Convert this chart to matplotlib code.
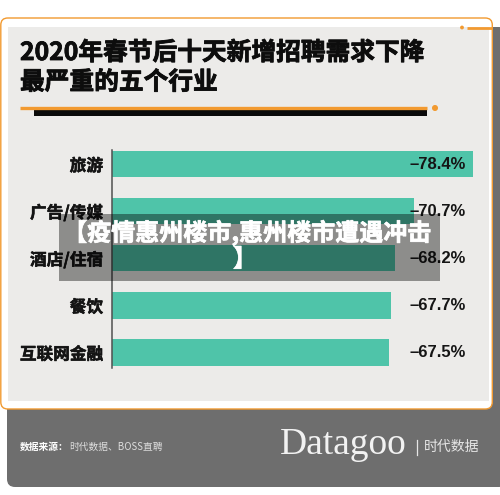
import matplotlib
matplotlib.use("Agg")
import matplotlib.pyplot as plt
import matplotlib.patheffects as pe
from matplotlib.patches import FancyBboxPatch, Rectangle, Circle
from matplotlib.transforms import blended_transform_factory

plt.rcParams['font.family'] = ['Noto Sans CJK SC', 'DejaVu Sans']

# ---- data ----
categories = ["旅游", "广告/传媒", "酒店/住宿", "餐饮", "互联网金融"]
values = [78.4, 70.7, 68.2, 67.7, 67.5]          # decline in %
value_labels = ["–78.4%", "–70.7%", "–68.2%", "–67.7%", "–67.5%"]
title_lines = ["2020年春节后十天新增招聘需求下降", "最严重的五个行业"]
watermark_lines = ["【疫情惠州楼市,惠州楼市遭遇冲击", "】"]
source_label = "数据来源："
source_text = "时代数据、BOSS直聘"
brand = "Datagoo"
brand_cn = "时代数据"

W, H = 500, 495
ORANGE = "#f29a30"
TEAL = "#4fc4a9"
PANEL = "#6e6e6e"
CARD = "#ecebe9"

def heavy(color, w=0.7):
    return [pe.withStroke(linewidth=w, foreground=color)]

fig = plt.figure(figsize=(W / 100, H / 100), dpi=100)
fig.patch.set_facecolor("white")

bg = fig.add_axes([0, 0, 1, 1], zorder=0)
bg.set_xlim(0, W)
bg.set_ylim(H, 0)
bg.axis("off")

bg.add_patch(FancyBboxPatch((7, 27), 500, 460, boxstyle="round,pad=0,rounding_size=8",
                            facecolor=PANEL, edgecolor="none"))
bg.add_patch(FancyBboxPatch((0.8, 18), 491.5, 391, boxstyle="round,pad=0,rounding_size=7",
                            facecolor="white", edgecolor=ORANGE, linewidth=1.0))
bg.add_patch(Rectangle((8, 27), 481, 374, facecolor=CARD, edgecolor="none"))
bg.plot([467, 492], [27.5, 27.5], color=ORANGE, lw=2, solid_capstyle="butt")
bg.add_patch(Circle((462, 27.5), 1.2, color=ORANGE))

for i, line in enumerate(title_lines):
    bg.text(20, 53 + i * 29.5, line, fontsize=17.8, fontweight="bold", color="#0d0d0d",
            ha="left", va="center", path_effects=heavy("#0d0d0d", 0.6))
bg.plot([20, 427], [108, 108], color=ORANGE, lw=2.4, solid_capstyle="butt")
bg.add_patch(Circle((435, 108), 2.3, color=ORANGE))
bg.add_patch(Rectangle((34, 110), 393, 6, facecolor="#0a0a0a", edgecolor="none"))

bg.text(20, 447, source_label, fontsize=7, fontweight="bold", color="white",
        ha="left", va="center")
bg.text(69, 447, source_text, fontsize=7, color="#dddddd", ha="left", va="center")
bg.text(280, 454, brand, family="Liberation Serif", fontsize=27, color="#f2f2f2",
        ha="left", va="baseline")
bg.plot([417, 417], [440, 455], color="#e6e6e6", lw=0.9)
bg.text(424, 447, brand_cn, fontsize=10, color="#e6e6e6", ha="left", va="center")

ax_left, ax_right, ax_top, ax_bottom = 112, 490, 150, 368
ax = fig.add_axes([ax_left / W, 1 - ax_bottom / H, (ax_right - ax_left) / W,
                   (ax_bottom - ax_top) / H], zorder=1)
ax.patch.set_alpha(0)
y = list(range(len(categories)))
ax.barh(y, values, height=0.56, color=TEAL, left=0)
ax.set_xlim(31.5, 80.6)
ax.set_ylim(4 + 15.5 / 47, -14 / 47)
ax.set_yticks(y)
ax.set_yticklabels(categories, fontsize=12, fontweight="bold", color="#141414")
for t in ax.get_yticklabels():
    t.set_path_effects(heavy("#141414", 0.4))
ax.tick_params(axis="y", length=0, pad=6.5)
ax.set_xticks([])
for s in ["top", "right", "bottom"]:
    ax.spines[s].set_visible(False)
ax.spines["left"].set_color("#505050")
ax.spines["left"].set_linewidth(1.1)

tr = blended_transform_factory(ax.transAxes, ax.transData)
for yi, lab in zip(y, value_labels):
    ax.text(0.9365, yi, lab, transform=tr, ha="right", va="center",
            family="Liberation Sans", fontweight="bold", fontsize=12, color="#151515")

ov = fig.add_axes([0, 0, 1, 1], zorder=3)
ov.set_xlim(0, W)
ov.set_ylim(H, 0)
ov.axis("off")
ov.patch.set_alpha(0)
ov.add_patch(Rectangle((59, 214), 381, 67, facecolor="black", alpha=0.4, edgecolor="none"))
ov.text(247, 233, watermark_lines[0], fontsize=17.3, fontweight="bold", color="white",
        ha="center", va="center", path_effects=heavy("white", 0.5))
ov.text(245, 259.5, watermark_lines[1], fontsize=17.3, fontweight="bold", color="white",
        ha="center", va="center", path_effects=heavy("white", 0.5))

fig.savefig("out.png", dpi=100)
